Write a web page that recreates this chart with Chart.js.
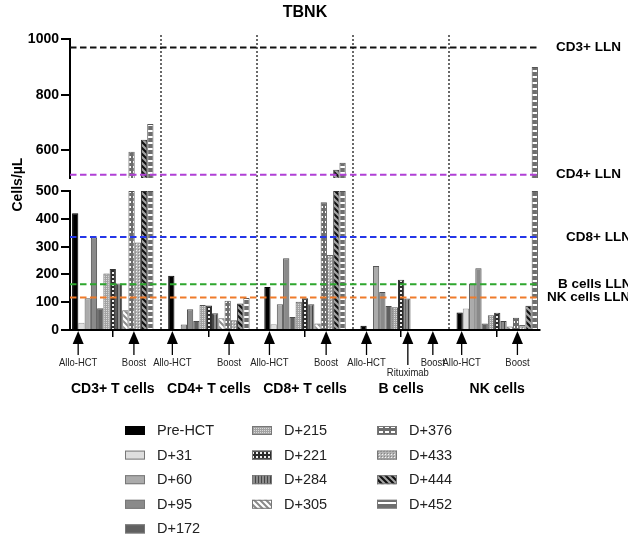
<!DOCTYPE html>
<html>
<head>
<meta charset="utf-8">
<title>TBNK</title>
<script src="https://cdn.jsdelivr.net/npm/chart.js@4.4.1/dist/chart.umd.min.js"></script>
<style>
  html, body { margin: 0; padding: 0; background: #fff; }
</style>
</head>
<body>
<canvas id="tbnkChart" width="628" height="544"></canvas>
<script>
// cell populations on the x axis
const groups = ['CD3+ T cells', 'CD4+ T cells', 'CD8+ T cells', 'B cells', 'NK cells'];
const timepoints = ['Pre-HCT', 'D+31', 'D+60', 'D+95', 'D+172', 'D+215', 'D+221',
                    'D+284', 'D+305', 'D+376', 'D+433', 'D+444', 'D+452'];

// cells/µL, one value per population (CD3, CD4, CD8, B, NK)
const preHCT = [420, 195, 155, 15, 63];
const d31    = [26, 4, 21, 0, 77];
const d60    = [114, 20, 93, 230, 167];
const d95    = [333, 75, 258, 137, 222];
const d172   = [78, 32, 47, 86, 23];
const d215   = [203, 90, 102, 82, 53];
const d221   = [220, 88, 114, 181, 62];
const d284   = [167, 60, 93, 113, 32];
const d305   = [71, 42, 23, 0, 13];
const d376   = [595, 105, 460, 0, 44];
const d433   = [315, 35, 270, 0, 18];
const d444   = [638, 95, 530, 0, 87];
const d452   = [695, 115, 555, 0, 900];
const series = [preHCT, d31, d60, d95, d172, d215, d221, d284, d305, d376, d433, d444, d452];

// broken y axis: lower part 0-500, upper part 500-1000
const axisBreak = 500;
const lowerTicks = [0, 100, 200, 300, 400, 500];
const upperTicks = [600, 800, 1000];

// lower limits of normal
const llnNames  = ['CD3+ LLN', 'CD4+ LLN', 'CD8+ LLN', 'B cells LLN', 'NK cells LLN'];
const llnValues = [970, 512, 335, 165, 117];

// events marked under the axis (x in population units)
const eventNames = ['Allo-HCT', 'Boost', 'Allo-HCT', 'Boost', 'Allo-HCT', 'Boost',
                    'Allo-HCT', 'Rituximab', 'Boost', 'Allo-HCT', 'Boost'];
const eventPos   = [-0.36, 0.22, 0.62, 1.21, 1.63, 2.22, 2.64, 3.07, 3.33, 3.63, 4.21];

Chart.defaults.font.family = "'Liberation Sans', Arial, sans-serif";
Chart.defaults.color = '#000';

// fills
function tile(w, h, paint) {
    const c = document.createElement('canvas');
    c.width = w; c.height = h;
    const g = c.getContext('2d');
    paint(g, w, h);
    return g.createPattern(c, 'repeat');
}
function diag(bg, fg, lw) {
    return tile(6, 6, (g) => {
        g.fillStyle = bg; g.fillRect(0, 0, 6, 6);
        g.strokeStyle = fg; g.lineWidth = lw;
        g.beginPath();
        g.moveTo(-1, -1); g.lineTo(7, 7);
        g.moveTo(-1, 5); g.lineTo(1, 7);
        g.moveTo(5, -1); g.lineTo(7, 1);
        g.stroke();
    });
}
const fills = [
    '#000000',
    '#dedede',
    '#ababab',
    '#8a8a8a',
    '#606060',
    tile(2, 2, (g) => { g.fillStyle = '#a2a2a2'; g.fillRect(0, 0, 2, 2); g.fillStyle = '#dadada'; g.fillRect(0, 0, 1, 1); }),
    tile(4, 4, (g) => { g.fillStyle = '#2c2c2c'; g.fillRect(0, 0, 4, 4); g.fillStyle = '#f0f0f0'; g.fillRect(0, 0, 2, 2); }),
    tile(3, 1, (g) => { g.fillStyle = '#8c8c8c'; g.fillRect(0, 0, 3, 1); g.fillStyle = '#454545'; g.fillRect(0, 0, 1, 1); }),
    diag('#ffffff', '#8a8a8a', 2),
    tile(6, 5, (g) => { g.fillStyle = '#6c6c6c'; g.fillRect(0, 0, 6, 5); g.fillStyle = '#ffffff'; g.fillRect(1, 1, 4, 2); }),
    tile(3, 3, (g) => { g.fillStyle = '#b4b4b4'; g.fillRect(0, 0, 3, 3); g.fillStyle = '#f4f4f4'; g.fillRect(1, 1, 1, 1); g.fillStyle = '#858585'; g.fillRect(0, 0, 1, 1); }),
    diag('#a4a4a4', '#111111', 2.2),
    tile(1, 6, (g) => { g.fillStyle = '#6e6e6e'; g.fillRect(0, 0, 1, 6); g.fillStyle = '#ffffff'; g.fillRect(0, 4, 1, 2); })
];
const edges = ['#000', '#9a9a9a', '#555', '#4d4d4d', '#4d4d4d', '#555', '#333', '#444', '#666', '#555', '#666', '#333', '#555'];
const llnColors = ['#111111', '#b03fd6', '#2436e8', '#2ea62e', '#ef7b2a'];
const llnLabelDx = [16, 16, 26, 18, 7];

// each timepoint gets a lower and an upper bar in the same slot
const datasets = [];
series.forEach((vals, j) => {
    const style = { label: timepoints[j], stack: 't' + j, backgroundColor: fills[j], borderColor: edges[j], borderWidth: 1 };
    datasets.push(Object.assign({
        yAxisID: 'y',
        data: vals.map((v, i) => ({ x: i, y: Math.min(v, axisBreak) }))
    }, style));
    datasets.push(Object.assign({
        yAxisID: 'yTop',
        data: vals.map((v, i) => ({ x: i, y: v > axisBreak ? [axisBreak, v] : null }))
    }, style));
});

const extras = {
    id: 'extras',
    afterDatasetsDraw(chart) {
        const { ctx, chartArea, scales } = chart;
        ctx.save();
        // dotted separators between populations
        ctx.strokeStyle = '#222';
        ctx.lineWidth = 1.8;
        ctx.setLineDash([1.6, 2.4]);
        for (let k = 0; k < groups.length - 1; k++) {
            const x = Math.round(scales.x.getPixelForValue(k + 0.5));
            ctx.beginPath();
            ctx.moveTo(x, chartArea.top - 4);
            ctx.lineTo(x, chartArea.bottom);
            ctx.stroke();
        }
        // LLN lines
        ctx.lineWidth = 2;
        ctx.setLineDash([6.5, 3.5]);
        ctx.font = "bold 13.5px 'Liberation Sans', Arial, sans-serif";
        ctx.textBaseline = 'middle';
        llnValues.forEach((v, k) => {
            const sc = v > axisBreak ? scales.yTop : scales.y;
            const y = sc.getPixelForValue(v);
            ctx.strokeStyle = llnColors[k];
            ctx.beginPath();
            ctx.moveTo(chartArea.left, y);
            ctx.lineTo(chartArea.right, y);
            ctx.stroke();
            ctx.fillStyle = '#000';
            ctx.fillText(llnNames[k], chartArea.right + llnLabelDx[k], y);
        });
        ctx.restore();
    },
    afterDraw(chart) {
        const { ctx, scales } = chart;
        const base = scales.y.getPixelForValue(0);
        ctx.save();
        // event arrows
        ctx.fillStyle = '#000';
        ctx.strokeStyle = '#000';
        ctx.font = "11px 'Liberation Sans', Arial, sans-serif";
        ctx.textAlign = 'center';
        ctx.textBaseline = 'middle';
        eventPos.forEach((p, k) => {
            const x = scales.x.getPixelForValue(p);
            const longer = eventNames[k] === 'Rituximab' ? 10 : 0;
            ctx.beginPath();
            ctx.moveTo(x, base + 1);
            ctx.lineTo(x - 5.5, base + 14);
            ctx.lineTo(x + 5.5, base + 14);
            ctx.closePath();
            ctx.fill();
            ctx.lineWidth = 1.3;
            ctx.beginPath();
            ctx.moveTo(x, base + 13);
            ctx.lineTo(x, base + 25 + longer);
            ctx.stroke();
            // condensed label
            ctx.save();
            ctx.translate(x, base + 33 + longer);
            ctx.scale(0.86, 1);
            ctx.fillStyle = '#222';
            ctx.fillText(eventNames[k], 0, 0);
            ctx.restore();
        });
        // legend in three columns
        const colStart = [0, 5, 9];
        const colX = [125, 252, 377];
        ctx.textAlign = 'left';
        ctx.font = "14.5px 'Liberation Sans', Arial, sans-serif";
        timepoints.forEach((name, j) => {
            let c = 0;
            while (c < colStart.length - 1 && j >= colStart[c + 1]) c++;
            const row = j - colStart[c];
            const x = colX[c];
            const y = 430 + row * 24.6;
            ctx.fillStyle = fills[j];
            ctx.fillRect(x, y - 4, 20, 9);
            ctx.lineWidth = 1;
            ctx.strokeStyle = j === 0 ? '#000' : '#777';
            ctx.strokeRect(x + 0.5, y - 3.5, 19, 8);
            ctx.fillStyle = '#222';
            ctx.fillText(name, x + 32, y + 1);
        });
        ctx.restore();
    }
};

const yBase = {
    type: 'linear',
    position: 'left',
    stack: 'left',
    stacked: false,
    ticks: {
        font: { size: 14, weight: 'bold' },
        color: '#000',
        padding: 2,
        autoSkip: false,
        callback: (v) => String(v)
    },
    grid: { drawOnChartArea: false, tickLength: 9, color: '#000', lineWidth: 2 },
    border: { color: '#000', width: 2 },
    afterFit: (s) => { s.width = 70; }
};

const tbnkChart = new Chart(document.getElementById('tbnkChart'), {
    type: 'bar',
    data: { datasets: datasets },
    options: {
        responsive: false,
        animation: false,
        categoryPercentage: 0.847,
        barPercentage: 1,
        layout: { padding: { left: 0, right: 88, top: 0, bottom: 144 } },
        plugins: {
            legend: { display: false },
            tooltip: { enabled: false },
            title: {
                display: true,
                text: 'TBNK',
                fullSize: false,
                color: '#000',
                font: { size: 16, weight: 'bold' },
                padding: { top: 3, bottom: 17 }
            }
        },
        scales: {
            x: {
                type: 'linear',
                min: -0.445,
                max: 4.445,
                offset: false,
                afterBuildTicks: (s) => { s.ticks = groups.map((g, i) => ({ value: i })); },
                ticks: {
                    callback: (v, i) => groups[i],
                    font: { size: 14, weight: 'bold' },
                    color: '#000',
                    maxRotation: 0,
                    autoSkip: false,
                    padding: 44
                },
                grid: { drawOnChartArea: false, offset: false, tickLength: 7, color: '#000', lineWidth: 1.5 },
                border: { color: '#000', width: 2 },
                afterFit: (s) => { s.height = 70; }
            },
            y: Object.assign({}, yBase, {
                min: 0, max: axisBreak, stackWeight: 139,
                afterBuildTicks: (s) => { s.ticks = lowerTicks.map(v => ({ value: v })); }
            }),
            yGap: {
                type: 'linear',
                position: 'left',
                stack: 'left',
                stackWeight: 13,
                ticks: { display: false },
                grid: { display: false },
                border: { display: false },
                title: {
                    display: true,
                    text: 'Cells/µL',
                    color: '#000',
                    font: { size: 14, weight: 'bold' },
                    padding: { top: 10, bottom: 0 }
                },
                afterFit: (s) => { s.width = 70; }
            },
            yTop: Object.assign({}, yBase, {
                min: axisBreak, max: 1000, stackWeight: 139,
                afterBuildTicks: (s) => { s.ticks = upperTicks.map(v => ({ value: v })); }
            })
        }
    },
    plugins: [extras]
});
</script>
</body>
</html>
